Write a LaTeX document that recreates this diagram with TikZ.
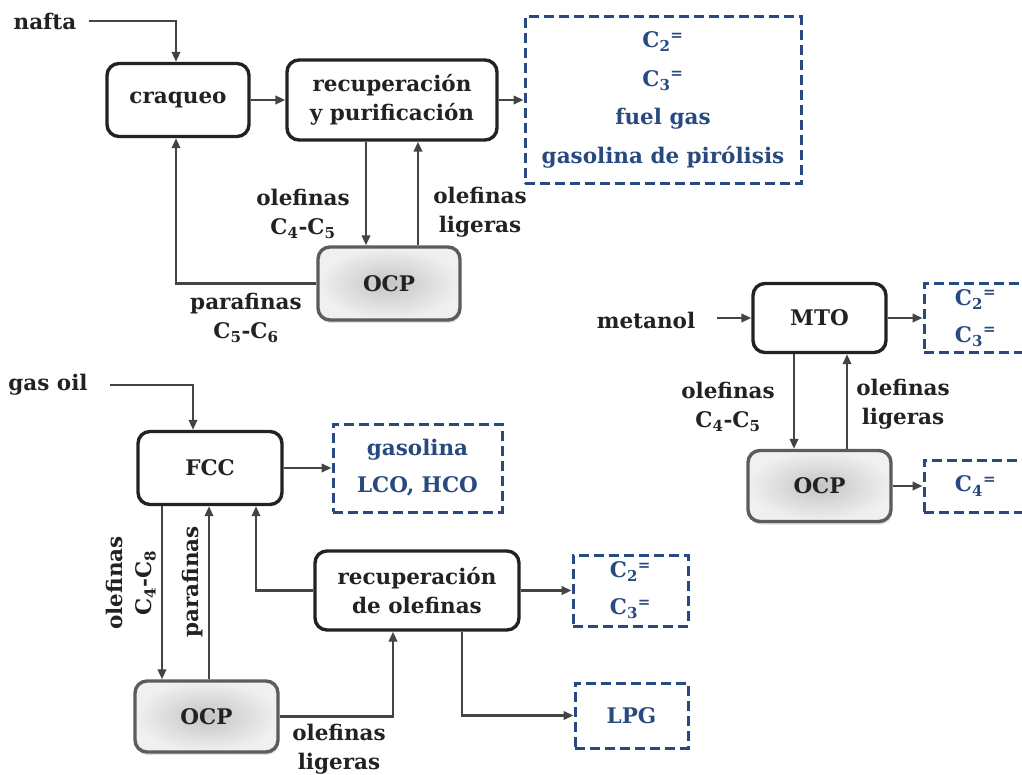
\documentclass[tikz,border=0pt]{standalone}
\usepackage{fontspec}
\setmainfont{DejaVu Serif}
\usetikzlibrary{arrows.meta,shadows}

\definecolor{ink}{RGB}{34,34,34}
\definecolor{wire}{RGB}{68,68,68}
\definecolor{prodblue}{RGB}{40,74,128}
\definecolor{ocpedge}{RGB}{92,92,92}
\definecolor{ocpin}{RGB}{196,196,196}
\definecolor{ocpout}{RGB}{240,240,240}

\newcommand{\olef}[1]{C\textsubscript{#1}\textsuperscript{=}}

\begin{document}
\begin{tikzpicture}[x=1pt,y=-1pt,
  font=\fontsize{21.5}{29}\selectfont\bfseries, text=ink,
  proc/.style={draw=ink, line width=3.4pt, rounded corners=12pt, fill=white,
    align=center, inner sep=0pt},
  ocpbox/.style={draw=ocpedge, line width=3.4pt, rounded corners=12pt,
    shading=radial, inner color=ocpin, outer color=ocpout,
    drop shadow={shadow xshift=1pt, shadow yshift=-3pt, opacity=0.25},
    align=center, inner sep=0pt},
  prod/.style={draw=prodblue, line width=3pt, dash pattern=on 10pt off 5pt,
    fill=white, text=prodblue, align=center, inner sep=0pt,
    font=\fontsize{21.5}{37}\selectfont\bfseries},
  lbl/.style={align=center, inner sep=0pt},
  flow/.style={draw=wire, line width=2.2pt,
    -{Triangle[length=10pt,width=8.5pt]}},
]
\useasboundingbox (0,0) rectangle (1022,774);
\clip (0,0) rectangle (1022,774);

% ---- steam cracker with OCP ----
\node[lbl] (nafta) at (45,21) {nafta};
\node[proc, minimum width=142, minimum height=73] (craq) at (178,100) {craqueo};
\node[proc, minimum width=210, minimum height=80] (rp) at (392,100) {recuperación\\y purificación};
\node[prod, minimum width=276, minimum height=167,
      font=\fontsize{21.5}{38.5}\selectfont\bfseries] (topout) at (663,100)
  {\olef{2}\\\olef{3}\\fuel gas\\gasolina de pirólisis};
\node[ocpbox, minimum width=142, minimum height=73] (ocpa) at (389,283.5) {OCP};

\node[lbl] (la1) at (303,214) {olefinas\\C\textsubscript{4}-C\textsubscript{5}};
\node[lbl] (la2) at (480,212) {olefinas\\ligeras};
\node[lbl] (la3) at (246,318) {parafinas\\C\textsubscript{5}-C\textsubscript{6}};

\draw[flow] ([xshift=12pt]nafta.east) -| (176,0 |- craq.north);
\draw[flow] (craq.east) -- (rp.west);
\draw[flow] (rp.east) -- (topout.west);
\draw[flow] (366,0 |- rp.south) -- (366,0 |- ocpa.north);
\draw[flow] (418,0 |- ocpa.north) -- (418,0 |- rp.south);
\draw[flow] (ocpa.west) -| (176,0 |- craq.south);

% ---- MTO with OCP ----
\node[lbl] (meoh) at (646,320) {metanol};
\node[proc, minimum width=133, minimum height=69] (mto) at (819.5,318) {MTO};
\node[prod, minimum width=103, minimum height=69] (mtoout) at (975.5,318)
  {\olef{2}\\\olef{3}};
\node[ocpbox, minimum width=143, minimum height=71] (ocpb) at (819.5,486) {OCP};
\node[prod, minimum width=103, minimum height=52] (c4out) at (975.5,486)
  {\olef{4}};

\node[lbl] (lb1) at (728,407) {olefinas\\C\textsubscript{4}-C\textsubscript{5}};
\node[lbl] (lb2) at (903,404) {olefinas\\ligeras};

\draw[flow] (717,0 |- mto.west) -- (mto.west);
\draw[flow] (mto.east) -- (mtoout.west);
\draw[flow] (794,0 |- mto.south) -- (794,0 |- ocpb.north);
\draw[flow] (847,0 |- ocpb.north) -- (847,0 |- mto.south);
\draw[flow] (ocpb.east) -- (c4out.west);

% ---- FCC with OCP ----
\node[lbl] (goil) at (48,385) {gas oil};
\node[proc, minimum width=144, minimum height=73] (fcc) at (210,468) {FCC};
\node[prod, minimum width=169, minimum height=88] (fccout) at (417.5,468)
  {gasolina\\LCO, HCO};
\node[proc, minimum width=204, minimum height=79] (rol) at (417,590.5) {recuperación\\de olefinas};
\node[prod, minimum width=115, minimum height=71] (c23out) at (630.5,590.5)
  {\olef{2}\\\olef{3}};
\node[prod, minimum width=113, minimum height=65] (lpg) at (631.5,715.5) {LPG};
\node[ocpbox, minimum width=143, minimum height=71] (ocpc) at (206.5,716.5) {OCP};

\node[lbl, rotate=90] (lc1) at (131,583) {olefinas\\C\textsubscript{4}-C\textsubscript{8}};
\node[lbl, rotate=90] (lc2) at (193,582) {parafinas};
\node[lbl] (lc3) at (339,749) {olefinas\\ligeras};

\draw[flow] (110,0 |- goil.east) -| (193,0 |- fcc.north);
\draw[flow] (fcc.east) -- (fccout.west);
\draw[flow] (162,0 |- fcc.south) -- (162,0 |- ocpc.north);
\draw[flow] (209,0 |- ocpc.north) -- (209,0 |- fcc.south);
\draw[flow] (rol.west) -| (256,0 |- fcc.south);
\draw[flow] (rol.east) -- (c23out.west);
\draw[flow] (ocpc.east) -| (393,0 |- rol.south);
\draw[flow] (462,0 |- rol.south) |- (lpg.west);
\end{tikzpicture}
\end{document}
